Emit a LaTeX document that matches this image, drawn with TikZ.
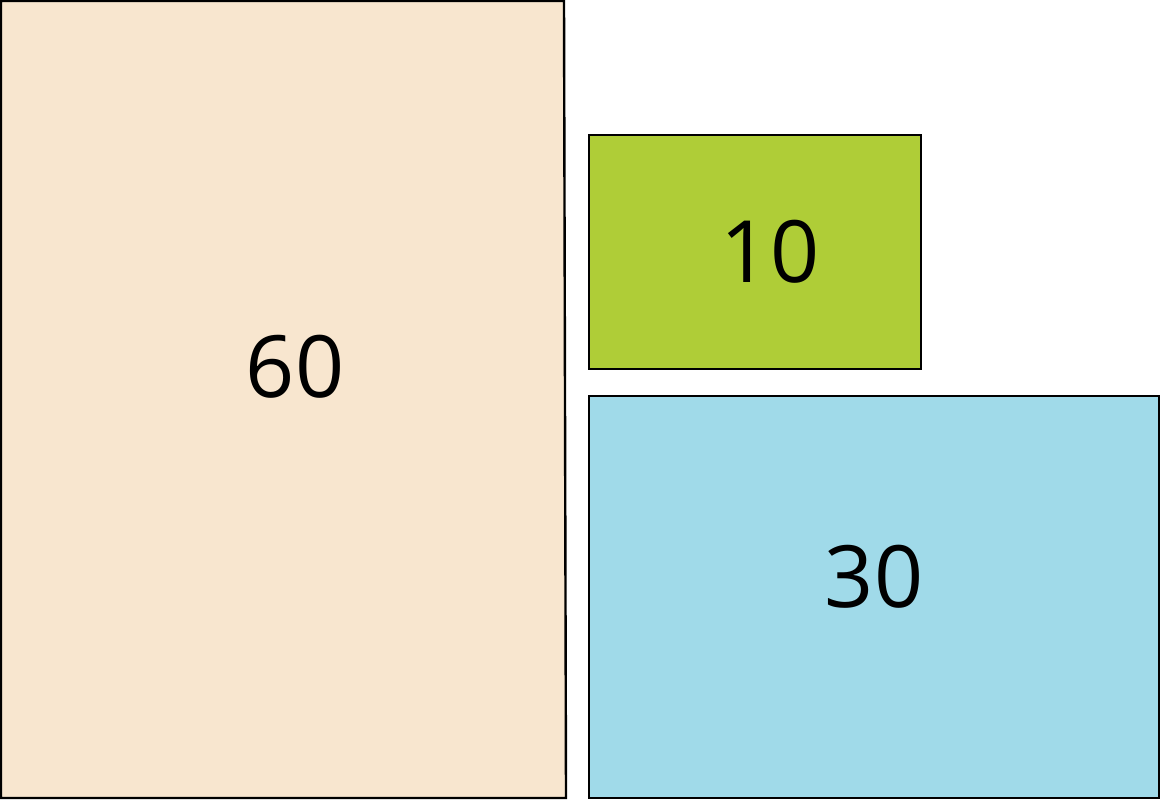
\documentclass[tikz,border=0pt]{standalone}
\usepackage{fontspec}
\setmainfont{Open Sans}
\definecolor{peachF}{RGB}{248,230,207}
\definecolor{limeF}{RGB}{175,205,55}
\definecolor{skyF}{RGB}{160,218,233}
\usetikzlibrary{positioning}
\tikzset{
  area/.style={draw=black, line width=1.2pt},
  share/.style={font=\fontsize{43}{50}\selectfont, inner sep=0pt, anchor=center},
}
\begin{document}
\begin{tikzpicture}[x=0.5pt, y=-0.5pt]
  \useasboundingbox (0,0) rectangle (1161,800);

  % large share
  \filldraw[area, fill=peachF] (1,1) -- (564,1) -- (566,798) -- (1,798) -- cycle;
  \node[share] (sixty) at (295,367) {60};

  % small share
  \filldraw[area, fill=limeF] (589,135) rectangle (921,369);
  \node[share] (ten) at (770,252) {10};

  % middle share
  \filldraw[area, fill=skyF] (589,396) rectangle (1159,798);
  \node[share] (thirty) at (874,577) {30};
\end{tikzpicture}
\end{document}
